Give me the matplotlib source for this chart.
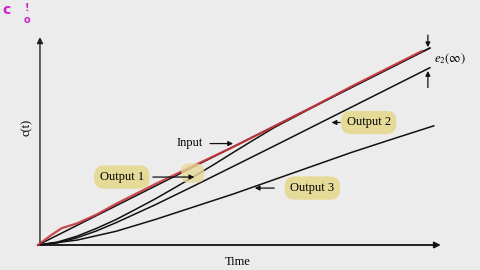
import numpy as np
import matplotlib.pyplot as plt

# values (time units 0..10, c(t) in same units as input ramp)
t_input = [0, 10]
c_input = [0, 10]

t_out1 = [0, 0.5, 1, 1.5, 2, 2.5, 3, 3.5, 4, 4.5, 5, 5.5, 6, 7, 8, 10]
c_out1 = [0, 0.15, 0.45, 0.85, 1.3, 1.82, 2.35, 2.92, 3.5, 4.1, 4.72, 5.33, 5.93, 6.98, 8.0, 10.0]

t_out2 = [0, 0.5, 1, 1.5, 2, 3, 4, 5, 6, 8, 10]
c_out2 = [0, 0.11, 0.37, 0.72, 1.14, 2.05, 3.02, 4.01, 5.0, 7.0, 9.0]

t_out3 = [0, 1, 2, 3, 4, 5, 6, 7, 8, 9, 10.1]
c_out3 = [0, 0.25, 0.7, 1.3, 1.95, 2.6, 3.3, 4.0, 4.7, 5.35, 6.05]

# red hand-drawn trace over the input
t_red = [0, 0.3, 0.6, 1.0, 1.5, 2, 3, 4, 5, 6, 7, 8, 9, 9.8]
c_red = [0, 0.45, 0.85, 1.1, 1.55, 2.1, 3.1, 4.05, 5.0, 6.0, 7.0, 8.05, 9.05, 9.85]

bg = '#ececec'
hl = '#e6da98'
serif = ['Liberation Serif', 'DejaVu Serif']

fig = plt.figure(figsize=(4.8, 2.7), dpi=100, facecolor=bg)
ax = fig.add_axes([0, 0, 1, 1])
ax.set_facecolor(bg)
ax.set_xlim(-0.97, 11.28)
ax.set_ylim(-1.27, 12.44)
ax.axis('off')

# axes with arrows
ax.annotate('', xy=(0.05, 10.7), xytext=(0.05, 0),
            arrowprops=dict(arrowstyle='-|>', color='#222222', lw=1.0, mutation_scale=9))
ax.annotate('', xy=(10.35, 0), xytext=(0, 0),
            arrowprops=dict(arrowstyle='-|>', color='#111111', lw=1.3, mutation_scale=9))

box = dict(boxstyle='round,pad=0.45,rounding_size=0.8', fc=hl, ec='none')
arr = dict(arrowstyle='-|>', color='#111111', lw=0.9, mutation_scale=7)

# small highlight blob under the Output 1 arrow tip
ax.text(3.95, 3.65, '    ', fontsize=8, va='center', ha='center',
        bbox=dict(boxstyle='round,pad=0.4,rounding_size=0.6', fc=hl, ec='none', alpha=0.8))

ax.plot(t_input, c_input, color='#111111', lw=1.1)
ax.plot(t_out1, c_out1, color='#111111', lw=1.1)
ax.plot(t_out2, c_out2, color='#111111', lw=1.1)
ax.plot(t_out3, c_out3, color='#111111', lw=1.1)
ax.plot(t_red, c_red, color='#c8353f', lw=1.6, alpha=0.9)

ax.annotate('', xy=(5.05, 5.15), xytext=(4.32, 5.15), arrowprops=arr)
ax.text(3.88, 5.2, 'Input', fontsize=9, family=serif, va='center', ha='center')
ax.annotate('', xy=(4.06, 3.45), xytext=(2.86, 3.45), arrowprops=arr)
ax.text(2.14, 3.45, 'Output 1', fontsize=9, family=serif, va='center', ha='center', bbox=box)
ax.annotate('', xy=(7.42, 6.22), xytext=(7.78, 6.22), arrowprops=arr)
ax.text(8.44, 6.22, 'Output 2', fontsize=9, family=serif, va='center', ha='center', bbox=box)
ax.annotate('', xy=(5.46, 2.89), xytext=(6.1, 2.89), arrowprops=arr)
ax.text(7.0, 2.89, 'Output 3', fontsize=9, family=serif, va='center', ha='center', bbox=box)

# e2(inf) marker
ax.annotate('', xy=(9.95, 9.9), xytext=(9.95, 10.8), arrowprops=arr)
ax.annotate('', xy=(9.95, 8.98), xytext=(9.95, 7.85), arrowprops=arr)
ax.text(10.1, 9.45, r'$e_2(\infty)$', fontsize=9, va='center', ha='left',
        family=serif, math_fontfamily='stix')

ax.text(-0.28, 5.95, 'c(t)', fontsize=9, family=serif, rotation=90, va='center', ha='center')
ax.text(5.1, -0.85, 'Time', fontsize=9, family=serif, va='center', ha='center')

# magenta scribbles at top-left
fig.text(0.004, 0.99, 'c', color='#cc22cc', fontsize=10, fontweight='bold', va='top', ha='left')
fig.text(0.057, 0.99, '!', color='#cc22cc', fontsize=7, fontweight='bold', va='top', ha='center')
fig.text(0.057, 0.945, 'o', color='#cc22cc', fontsize=7, fontweight='bold', va='top', ha='center')

fig.savefig('out.png', dpi=100, facecolor=bg)
